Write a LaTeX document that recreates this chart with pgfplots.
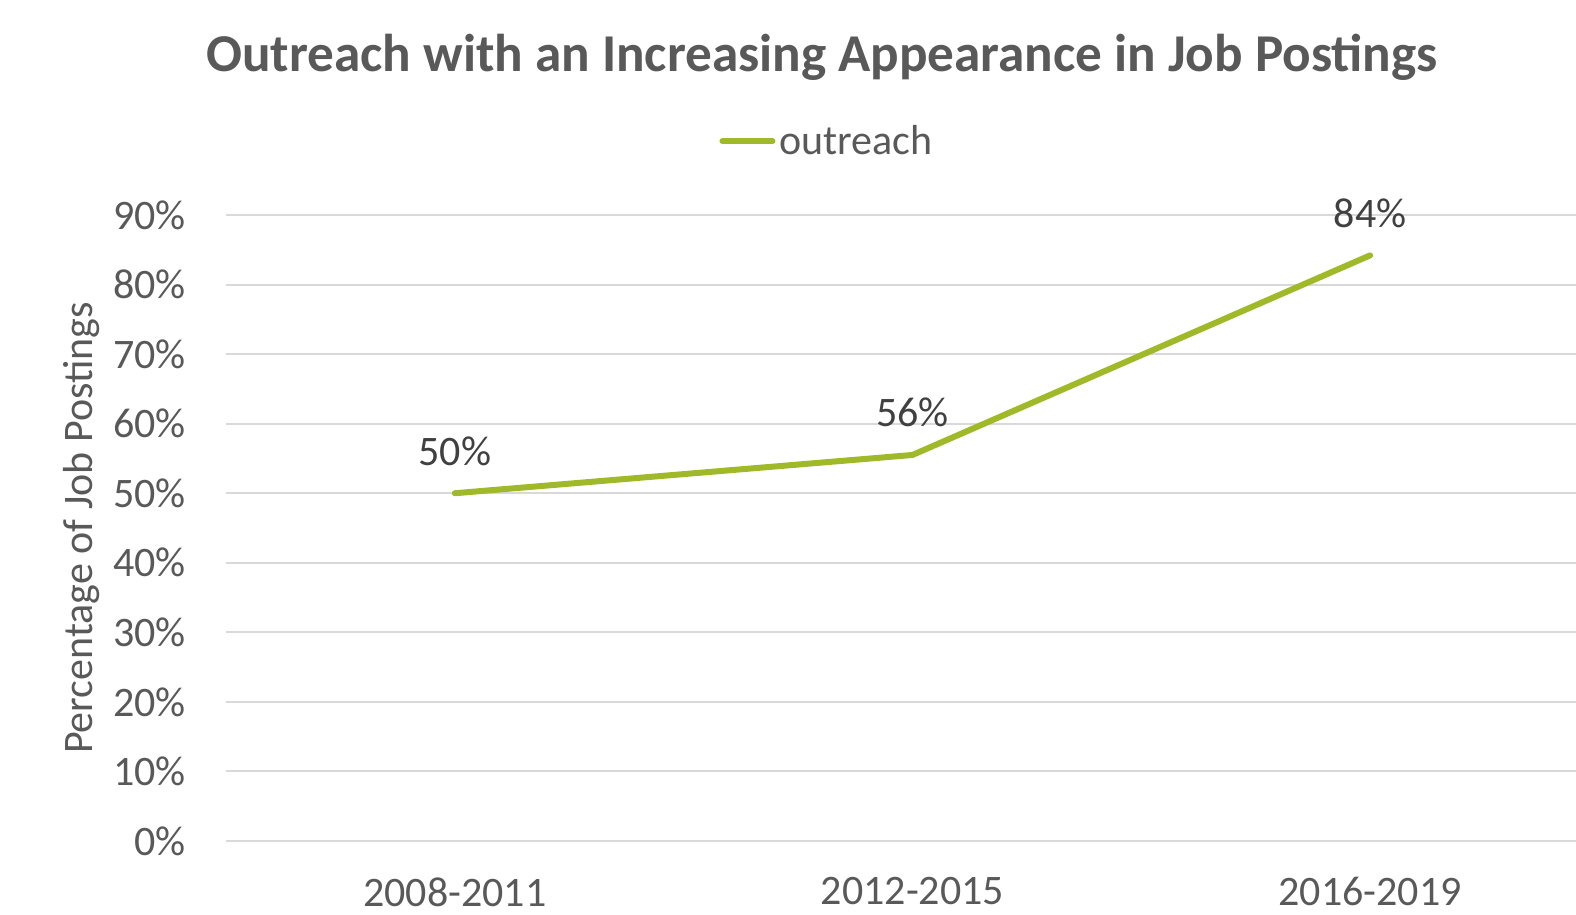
\documentclass[border=0pt]{standalone}
\usepackage{fontspec}
\setmainfont{Carlito}
\usepackage{pgfplots}
\pgfplotsset{compat=1.18}
\definecolor{lineg}{RGB}{160,185,40}
\definecolor{txt}{RGB}{89,89,89}
\definecolor{lbl}{RGB}{64,64,64}
\definecolor{gridc}{RGB}{217,217,217}
\begin{document}
\begin{tikzpicture}
\path[use as bounding box] (0pt,0pt) rectangle (788pt,-457.5pt);
\node[font=\fontsize{26.6}{32}\selectfont\bfseries, text=txt, inner sep=0pt] at (411pt,-28.5pt) {Outreach with an Increasing Appearance in Job Postings};
\begin{axis}[
  at={(113pt,-420.5pt)}, anchor=south west,
  scale only axis, width=675pt, height=313pt,
  xmin=-0.5, xmax=2.45, ymin=0, ymax=90,
  axis line style={draw=none},
  major tick length=0pt,
  xmajorgrids=false, ymajorgrids=true,
  y grid style={color=gridc, line width=1pt},
  ytick={0,10,...,90},
  yticklabels={0\%,10\%,20\%,30\%,40\%,50\%,60\%,70\%,80\%,90\%},
  xtick={0,1,2},
  xticklabels={2008-2011,2012-2015,2016-2019},
  tick label style={font=\fontsize{21}{25}\selectfont, text=txt, inner sep=0pt},
  yticklabel style={anchor=east, xshift=-20pt},
  xticklabel style={anchor=north, yshift=-18pt},
  ylabel={Percentage of Job Postings},
  ylabel style={at={(axis description cs:-0.1067,0.5)}, anchor=center, font=\fontsize{21}{25}\selectfont, text=txt},
  clip=false,
  legend style={at={(axis description cs:0.446,1.118)}, anchor=center, draw=none, fill=none, font=\fontsize{21}{25}\selectfont, text=txt, inner sep=0pt},
  legend image code/.code={\draw[#1, line width=3pt, line cap=round] (0pt,0pt) -- (25pt,0pt);},
  legend cell align=left,
  nodes near coords, point meta=explicit symbolic,
  every node near coord/.append style={anchor=base, inner sep=0pt, yshift=14pt, font=\fontsize{21}{25}\selectfont, text=lbl},
]
\addplot[lineg, line width=3pt, line cap=round, line join=round, mark=none] coordinates {(0,50) [50\%] (1,55.5) [56\%] (2,84.2) [84\%]};
\addlegendentry{outreach}
\end{axis}
\end{tikzpicture}
\end{document}
